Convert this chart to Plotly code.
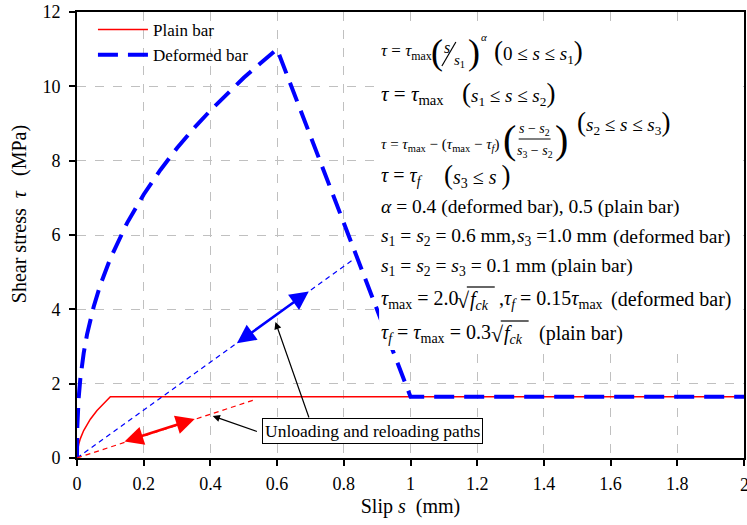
import plotly.graph_objects as go

# ---------------- data ----------------
deformed_s = [0, 0.001, 0.005, 0.01, 0.02, 0.03, 0.05, 0.07, 0.1, 0.15, 0.2, 0.25, 0.3,
              0.35, 0.4, 0.45, 0.5, 0.55, 0.6, 1.0, 2.0]
deformed_tau = [0, 0.85, 1.62, 2.14, 2.82, 3.32, 4.07, 4.66, 5.37, 6.32, 7.09, 7.75, 8.34,
                8.87, 9.35, 9.80, 10.23, 10.62, 11.0, 1.65, 1.65]

plain_s = [0, 0.001, 0.005, 0.01, 0.02, 0.03, 0.04, 0.06, 0.08, 0.1, 2.0]
plain_tau = [0, 0.165, 0.369, 0.522, 0.738, 0.904, 1.044, 1.278, 1.476, 1.65, 1.65]

blue_path_s = [0, 0.83]
blue_path_tau = [0, 5.35]
red_path_s = [0, 0.53]
red_path_tau = [0, 1.56]

x_ticks = [0, 0.2, 0.4, 0.6, 0.8, 1.0, 1.2, 1.4, 1.6, 1.8, 2.0]
x_tick_text = ["0", "0.2", "0.4", "0.6", "0.8", "1", "1.2", "1.4", "1.6", "1.8", "2"]
y_ticks = [0, 2, 4, 6, 8, 10, 12]

SERIF = "Liberation Serif, Times New Roman, serif"
NB = "\u00a0"

# ---------------- layout geometry ----------------
W, H = 747, 525
L, R, T, B = 77, 1, 12, 67
PW, PH = W - L - R, H - T - B


def px(x):
    return (x - L) / PW


def py(y):
    return (H - B - y) / PH


fig = go.Figure()

fig.add_trace(go.Scatter(x=plain_s, y=plain_tau, mode="lines", name="Plain bar",
                         line=dict(color="#ff0000", width=1.5)))
fig.add_trace(go.Scatter(x=deformed_s, y=deformed_tau, mode="lines", name="Deformed bar",
                         line=dict(color="#0000ff", width=4, dash="20px,10px")))
fig.add_trace(go.Scatter(x=blue_path_s, y=blue_path_tau, mode="lines", showlegend=False,
                         line=dict(color="#0000ff", width=1.2, dash="5px,4px")))
fig.add_trace(go.Scatter(x=red_path_s, y=red_path_tau, mode="lines", showlegend=False,
                         line=dict(color="#ff0000", width=1.2, dash="5px,4px")))

annotations = []
shapes = []

# white panel behind the equations
shapes.append(dict(type="rect", xref="paper", yref="paper", layer="above",
                   x0=px(380), x1=px(744), y0=py(350), y1=py(22),
                   fillcolor="white", line=dict(width=0)))


def txt(x, y, text, size, anchor="left"):
    annotations.append(dict(xref="paper", yref="paper", x=px(x), y=py(y), text=text,
                            showarrow=False, xanchor=anchor, yanchor="middle",
                            font=dict(family=SERIF, size=size, color="black")))


def hline(x0, x1, y, w=1):
    shapes.append(dict(type="line", xref="paper", yref="paper", x0=px(x0), x1=px(x1),
                       y0=py(y), y1=py(y), line=dict(color="black", width=w)))


tau = "<i>τ</i>"
s = "<i>s</i>"
fck = "<i>f</i><sub><i>ck</i></sub>"


def par(c, size):
    return f"<span style='font-size:{size}px'>{c}</span>"


# line 1
txt(380, 52, f"{tau} = {tau}<sub>max</sub>", 17)
txt(430, 52, "(", 36)
txt(448, 47, s, 16, "center")
shapes.append(dict(type="line", xref="paper", yref="paper", x0=px(443), x1=px(457),
                   y0=py(66), y1=py(42), line=dict(color="black", width=1.2)))
txt(461, 61, f"{s}<sub>1</sub>", 15, "center")
txt(467, 52, ")", 36)
txt(480, 37, "<i>α</i>", 11)
txt(493, 51, f"{par('(', 27)}0 ≤ {s} ≤ {s}<sub>1</sub>{par(')', 27)}", 19)
# line 2
txt(380, 95, f"{tau} = {tau}<sub>max</sub>", 21)
txt(461, 94, f"{par('(', 27)}{s}<sub>1</sub> ≤ {s} ≤ {s}<sub>2</sub>{par(')', 27)}", 19)
# line 3
txt(380, 145, f"{tau} = {tau}<sub>max</sub> − ({tau}<sub>max</sub> − {tau}<sub><i>f</i></sub>)", 15)
txt(502, 139, "(", 40)
txt(536, 129, f"{s} − {s}<sub>2</sub>", 14, "center")
txt(536, 151, f"{s}<sub>3</sub> − {s}<sub>2</sub>", 14, "center")
hline(520, 552, 139)
txt(554, 139, ")", 40)
txt(576, 122, f"{par('(', 27)}{s}<sub>2</sub> ≤ {s} ≤ {s}<sub>3</sub>{par(')', 27)}", 19)
# line 4
txt(380, 177, f"{tau} = {tau}<sub><i>f</i></sub>", 20)
txt(443, 176, f"{par('(', 27)}{s}<sub>3</sub> ≤ {s} {par(')', 27)}", 20)
# line 5
txt(380, 207, "<i>α</i> = 0.4 (deformed bar), 0.5 (plain bar)", 19.5)
# line 6
txt(380, 237, f"{s}<sub>1</sub> = {s}<sub>2</sub> = 0.6 mm,", 19.5)
txt(516, 237, f"{s}<sub>3</sub> =1.0 mm", 19.5)
txt(613, 237, "(deformed bar)", 19.5)
# line 7
txt(380, 267, f"{s}<sub>1</sub> = {s}<sub>2</sub> = {s}<sub>3</sub> = 0.1 mm (plain bar)", 19.5)
# line 8
txt(380, 299, f"{tau}<sub>max</sub> = 2.0", 20)
txt(456, 300, "√", 22)
txt(469, 300, fck, 20)
hline(468, 496, 287, 1.2)
txt(498, 299, f",{tau}<sub><i>f</i></sub> = 0.15{tau}<sub>max</sub>", 20)
txt(611, 299, "(deformed bar)", 20)
# line 9
txt(380, 333, f"{tau}<sub><i>f</i></sub> = {tau}<sub>max</sub> = 0.3", 20)
txt(490, 334, "√", 22)
txt(503, 334, fck, 20)
hline(502, 530, 321, 1.2)
txt(538, 333, "(plain bar)", 20)

# unloading / reloading label
annotations.append(dict(x=0.886, y=0.726, xref="x", yref="y", text="Unloading and reloading paths",
                        showarrow=False, xanchor="center", yanchor="middle",
                        font=dict(family=SERIF, size=17.5, color="black"),
                        bgcolor="white", bordercolor="black", borderwidth=1, borderpad=2))
# pointer arrows
for (hx, hy, tx, ty) in [(0.595, 3.66, 0.697, 1.05), (0.407, 1.13, 0.544, 0.70)]:
    annotations.append(dict(x=hx, y=hy, ax=tx, ay=ty, xref="x", yref="y", axref="x", ayref="y",
                            text="", showarrow=True, arrowhead=2, arrowsize=1.2,
                            arrowwidth=1.2, arrowcolor="black"))
# double-headed arrows on the unloading paths
for (x0, y0, x1, y1, c) in [(0.475, 3.06, 0.695, 4.48, "#0000ff"), (0.138, 0.43, 0.353, 1.05, "#ff0000")]:
    annotations.append(dict(x=x1, y=y1, ax=x0, ay=y0, xref="x", yref="y", axref="x", ayref="y",
                            text="", showarrow=True, arrowhead=2, arrowsize=1.5,
                            arrowwidth=2.5, arrowcolor=c, arrowside="end+start"))

# last x tick label, partly cut by the page edge as in the reference
annotations.append(dict(xref="paper", yref="paper", x=1.0, y=py(485), text="2", showarrow=False,
                        xanchor="center", yanchor="middle", font=dict(family=SERIF, size=18)))

# y-axis title (placed like the reference, slightly above the axis centre)
annotations.append(dict(xref="paper", yref="paper", x=px(19), y=py(214), textangle=-90,
                        text=f"Shear stress{NB}{NB}<i>τ</i>{NB}{NB} (MPa)", showarrow=False,
                        xanchor="center", yanchor="middle", font=dict(family=SERIF, size=20)))

fig.update_layout(
    width=W, height=H,
    margin=dict(l=L, r=R, t=T, b=B),
    paper_bgcolor="white", plot_bgcolor="white",
    font=dict(family=SERIF, size=18, color="black"),
    showlegend=True,
    legend=dict(x=px(93), y=py(12), xanchor="left", yanchor="top",
                bgcolor="rgba(0,0,0,0)", font=dict(family=SERIF, size=17),
                itemwidth=50, tracegroupgap=0),
    annotations=annotations,
    shapes=shapes,
)

fig.update_xaxes(range=[0, 2], tickvals=x_ticks, ticktext=x_tick_text,
                 showgrid=True, gridcolor="#c0c0c0", griddash="dash", gridwidth=1,
                 zeroline=False, showline=True, linecolor="black", linewidth=2, mirror=True,
                 ticks="outside", ticklen=6, tickcolor="black", tickwidth=1.5,
                 ticklabelstandoff=2,
                 tickfont=dict(family=SERIF, size=18),
                 title=dict(text=f"Slip <i>s</i>{NB} (mm)", font=dict(family=SERIF, size=20), standoff=6))
fig.update_yaxes(range=[0, 12], tickvals=y_ticks,
                 showgrid=True, gridcolor="#c0c0c0", griddash="dash", gridwidth=1,
                 zeroline=False, showline=True, linecolor="black", linewidth=2, mirror=True,
                 ticks="outside", ticklen=6, tickcolor="black", tickwidth=1.5,
                 ticklabelstandoff=5,
                 tickfont=dict(family=SERIF, size=18))

fig.write_html("out.html")
